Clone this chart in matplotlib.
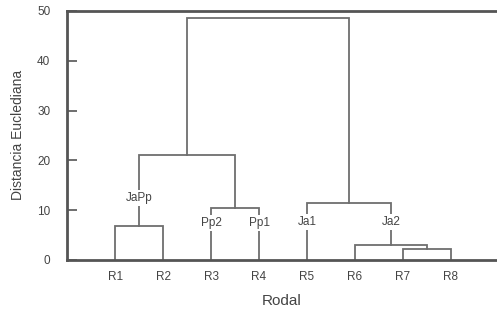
import matplotlib
matplotlib.use("Agg")
import matplotlib.pyplot as plt

leaves = ["R1", "R2", "R3", "R4", "R5", "R6", "R7", "R8"]
# merges: (left node, right node, height); nodes 0-7 leaves, 8+ clusters
merges = [
    (6, 7, 2.2),    # 8: R7-R8
    (5, 8, 3.0),    # 9: R6-(R7,R8)
    (0, 1, 6.8),    # 10: R1-R2
    (2, 3, 10.4),   # 11: R3-R4
    (4, 9, 11.4),   # 12: R5-(R6..R8)
    (10, 11, 21.1), # 13
    (12, 13, 48.6), # 14 top
]
# group labels: (text, node whose upward link they sit on, height)
group_labels = [("JaPp", 10, 12.4), ("Pp2", 2, 7.4), ("Pp1", 3, 7.4),
                ("Ja1", 4, 7.6), ("Ja2", 9, 7.6)]
yticks = [0, 10, 20, 30, 40, 50]

plt.rcParams['font.family'] = ['Liberation Sans', 'DejaVu Sans']
fig = plt.figure(figsize=(4.97, 3.12), dpi=100)
ax = fig.add_axes([0.135, 0.167, 0.865, 0.798])

lc = '#6e6e6e'
pos = {i: i + 1.0 for i in range(len(leaves))}
hgt = {i: 0.0 for i in range(len(leaves))}
for k, (a, b, h) in enumerate(merges):
    n = len(leaves) + k
    ax.plot([pos[a], pos[a], pos[b], pos[b]], [hgt[a], h, h, hgt[b]],
            color=lc, lw=1.3, solid_joinstyle='miter', zorder=2)
    pos[n] = (pos[a] + pos[b]) / 2
    hgt[n] = h

for txt, node, y in group_labels:
    ax.text(pos[node], y, txt, ha='center', va='center', fontsize=8.5,
            color='#444444', zorder=3,
            bbox=dict(facecolor='white', edgecolor='none', pad=1.5))

ax.set_xlim(0, 8.96)
ax.set_ylim(0, 50)
ax.set_yticks(yticks)
ax.set_xticks([pos[i] for i in range(len(leaves))])
ax.set_xticklabels(leaves)
ax.tick_params(axis='y', direction='in', length=7, width=1.2, colors='#555555',
               labelsize=8.5, labelcolor='#444444', pad=12)
ax.tick_params(axis='x', length=0, labelsize=8.5, labelcolor='#444444', pad=8)
for s in ['left', 'bottom', 'top']:
    ax.spines[s].set_color('#555555')
    ax.spines[s].set_linewidth(2)
ax.spines['right'].set_visible(False)
ax.set_xlabel('Rodal', fontsize=11, color='#444444', labelpad=8)
ax.set_ylabel('Distancia Euclediana', fontsize=10, color='#444444', labelpad=9)

fig.savefig('out.png', dpi=100)
